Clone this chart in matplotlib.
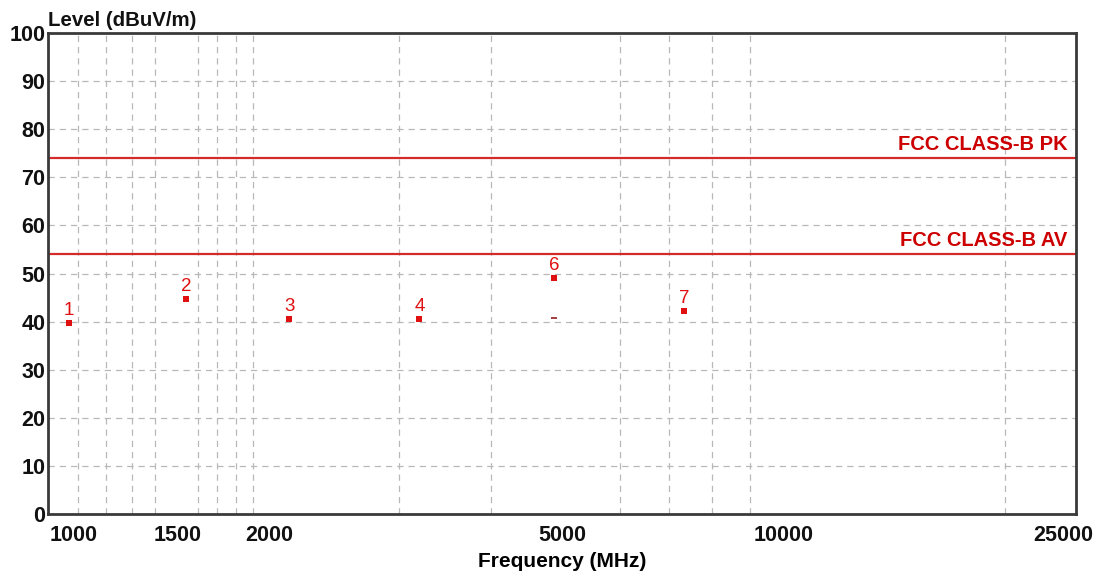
import matplotlib
matplotlib.use('Agg')
import matplotlib.pyplot as plt
import matplotlib.transforms as mtransforms

plt.rcParams['font.family'] = ['Liberation Sans', 'DejaVu Sans']

# marker readings (MHz, dBuV/m)
marker_ids = ['1', '2', '3', '4', '6', '7']
marker_freq = [1068, 1540, 2128, 3200, 4874, 7332]
marker_level = [39.7, 44.7, 40.5, 40.5, 49.1, 42.2]
# unlabelled reading hidden under marker 6
hidden_freq = [4874]
hidden_level = [40.7]

limit_names = ['FCC CLASS-B PK', 'FCC CLASS-B AV']
limit_levels = [74, 54]

x_tick_vals = [1000, 1500, 2000, 5000, 10000, 25000]
x_tick_labels = ['1000', '1500', '2000', '5000', '10000', '25000']
x_grid_vals = list(range(1100, 2001, 100)) + list(range(3000, 10001, 1000)) + [20000]
y_tick_vals = list(range(0, 101, 10))

red = '#e01010'
line_red = '#d42a2a'

fig = plt.figure(figsize=(11, 5.76), dpi=100)
ax = fig.add_axes([0.0436, 0.1076, 0.9345, 0.8351])

ax.set_xscale('log')
ax.set_xlim(1000, 25000)
ax.set_ylim(0, 100)

# grid
ax.set_xticks(x_tick_vals)
ax.set_xticklabels(x_tick_labels)
ax.set_xticks(x_grid_vals, minor=True)
ax.set_xticklabels([], minor=True)
ax.set_yticks(y_tick_vals)
ax.grid(which='minor', axis='x', color='#b8b8b8', linestyle=(0, (5, 4)), linewidth=0.9)
ax.grid(which='major', axis='y', color='#b8b8b8', linestyle=(0, (5, 4)), linewidth=0.9)
ax.set_axisbelow(True)

ax.tick_params(which='both', length=0)
ax.tick_params(axis='x', pad=8, labelsize=15.5)
ax.tick_params(axis='y', pad=2, labelsize=15.5)
for lab in ax.get_xticklabels() + ax.get_yticklabels():
    lab.set_fontweight('bold')
    lab.set_color('#111111')

xlabs = ax.get_xticklabels()
xlabs[0].set_horizontalalignment('left')
xlabs[0].set_transform(xlabs[0].get_transform() +
                       mtransforms.ScaledTranslation(2 / 100, 0, fig.dpi_scale_trans))
xlabs[-1].set_horizontalalignment('right')
xlabs[-1].set_transform(xlabs[-1].get_transform() +
                        mtransforms.ScaledTranslation(17 / 100, 0, fig.dpi_scale_trans))

for s in ax.spines.values():
    s.set_color('#3a3a3a')
    s.set_linewidth(2)

# limit lines
for name, lvl in zip(limit_names, limit_levels):
    ax.axhline(lvl, color=line_red, linewidth=1.6)
    ax.annotate(name, xy=(1, lvl), xycoords=('axes fraction', 'data'),
                xytext=(-6, 3), textcoords='offset points', ha='right', va='bottom',
                color='#cc0000', fontsize=14.5, fontweight='bold')

# markers
ax.scatter(marker_freq, marker_level, marker='s', s=16, color=red, zorder=5, linewidths=0)
ax.scatter(hidden_freq, hidden_level, marker='_', s=20, color='#992020', zorder=5, linewidths=1.2)
for mid, f, lv in zip(marker_ids, marker_freq, marker_level):
    ax.annotate(mid, xy=(f, lv), xytext=(0, 3), textcoords='offset points',
                ha='center', va='bottom', color=red, fontsize=13.5)

ax.set_xlabel('Frequency (MHz)', fontsize=15, fontweight='bold', labelpad=4)
fig.text(48 / 1100, 1 - 20 / 576, 'Level (dBuV/m)', fontsize=14.7, fontweight='bold',
         ha='left', va='center', color='#111111')

fig.savefig('out.png', dpi=100)
